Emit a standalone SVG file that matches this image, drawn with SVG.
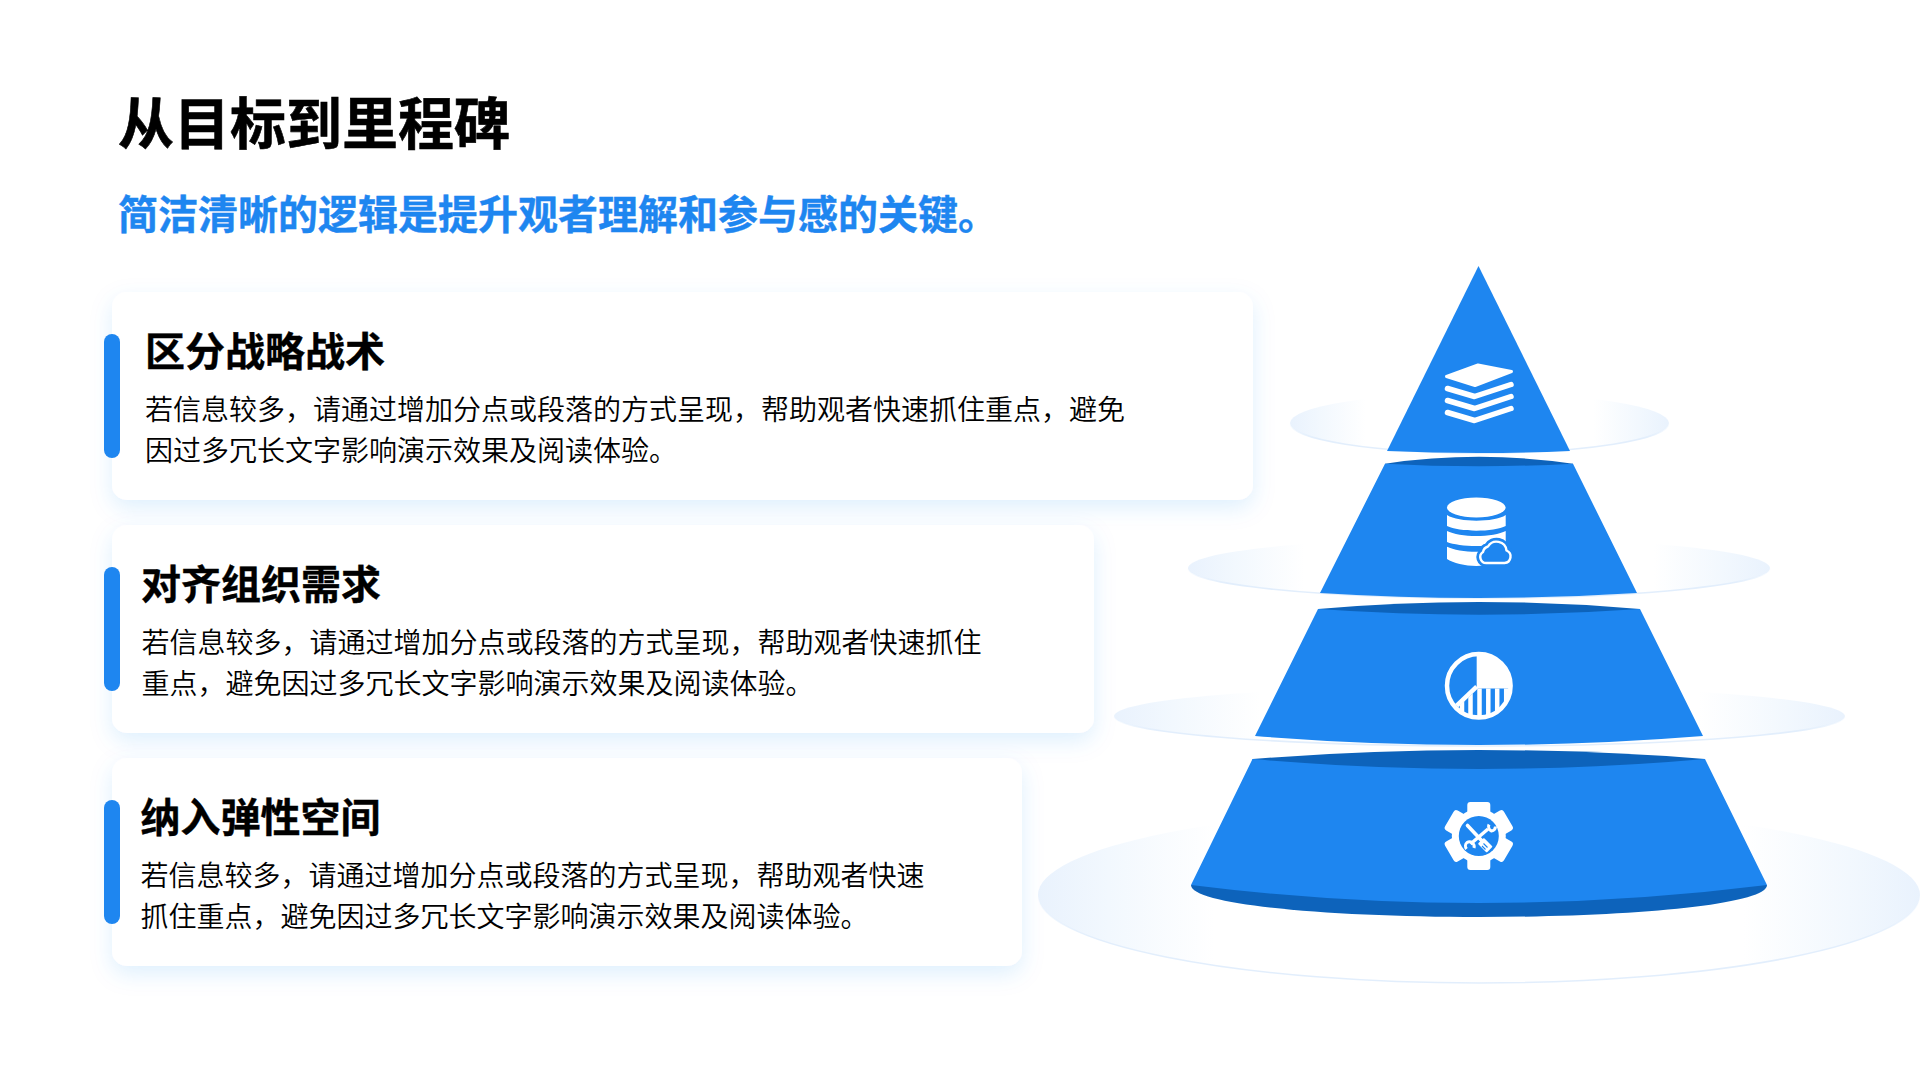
<svg xmlns="http://www.w3.org/2000/svg" width="1920" height="1080" viewBox="0 0 1920 1080">
<style>
text{font-family:"Noto Sans CJK SC","Noto Sans",sans-serif}
.h1{font-size:56px;font-weight:700;fill:#000;stroke:#000;stroke-width:.6}
.sub{font-size:40px;font-weight:700;fill:#1e86f0;stroke:#1e86f0;stroke-width:.4}
.ct{font-size:40px;font-weight:700;fill:#000;stroke:#000;stroke-width:.4}
.cb{font-size:28px;font-weight:350;fill:#000}
.card{fill:#fff;filter:url(#sh)}
.bar{fill:#1e86f0}
.blue{fill:#1e86f0}
.dark{fill:#0d63bb}
.wh{fill:#fff}
.ring{fill:url(#rg);stroke:url(#rs);stroke-width:1.6}
.chev{fill:none;stroke:#fff;stroke-width:5.5;stroke-linejoin:round;stroke-linecap:round}
</style>
<defs>
<filter id="sh" x="-10%" y="-20%" width="120%" height="150%"><feDropShadow dx="0" dy="8" stdDeviation="11" flood-color="#1e86f0" flood-opacity="0.13"/></filter>
<linearGradient id="rg" x1="0" x2="1" y1="0" y2="0"><stop offset="0" stop-color="#e9f2fd"/><stop offset=".08" stop-color="#f2f8fe"/><stop offset=".2" stop-color="#fff"/><stop offset=".8" stop-color="#fff"/><stop offset=".92" stop-color="#f2f8fe"/><stop offset="1" stop-color="#e9f2fd"/></linearGradient>
<linearGradient id="rs" x1="0" x2="0" y1="0" y2="1"><stop offset=".5" stop-color="#e6f1fd" stop-opacity="0"/><stop offset=".75" stop-color="#e2eefc"/><stop offset="1" stop-color="#e2eefc"/></linearGradient>
<clipPath id="stripes"><path d="M1478 688.5H1514V724H1442V712L1459 706Z"/></clipPath>
<clipPath id="circ"><circle cx="1478.8" cy="685.8" r="33"/></clipPath>
</defs>
<rect width="1920" height="1080" fill="#fff"/>
<g id="heading">
<text class="h1" x="118" y="144">从目标到里程碑</text>
<text class="sub" x="118" y="229">简洁清晰的逻辑是提升观者理解和参与感的关键。</text>
</g>
<g id="card-1">
<rect class="card" x="112" y="292" width="1141" height="208" rx="15"/>
<rect class="bar" x="104" y="334" width="16" height="124" rx="8"/>
<text class="ct" x="145" y="366">区分战略战术</text>
<text class="cb" x="145" y="420">若信息较多，请通过增加分点或段落的方式呈现，帮助观者快速抓住重点，避免</text>
<text class="cb" x="145" y="461">因过多冗长文字影响演示效果及阅读体验。</text>
</g>
<g id="card-2">
<rect class="card" x="112" y="525" width="982" height="208" rx="15"/>
<rect class="bar" x="104" y="567" width="16" height="124" rx="8"/>
<text class="ct" x="141" y="599">对齐组织需求</text>
<text class="cb" x="141.5" y="653">若信息较多，请通过增加分点或段落的方式呈现，帮助观者快速抓住</text>
<text class="cb" x="141.5" y="694">重点，避免因过多冗长文字影响演示效果及阅读体验。</text>
</g>
<g id="card-3">
<rect class="card" x="112" y="758" width="910" height="208" rx="15"/>
<rect class="bar" x="104" y="800" width="16" height="124" rx="8"/>
<text class="ct" x="140.5" y="832">纳入弹性空间</text>
<text class="cb" x="140.5" y="886">若信息较多，请通过增加分点或段落的方式呈现，帮助观者快速</text>
<text class="cb" x="140.5" y="927">抓住重点，避免因过多冗长文字影响演示效果及阅读体验。</text>
</g>
<g id="rings">
<ellipse class="ring" cx="1479" cy="895" rx="441" ry="88"/>
<ellipse class="ring" cx="1479.5" cy="716" rx="365.5" ry="30"/>
<ellipse class="ring" cx="1479" cy="568" rx="291" ry="30"/>
<ellipse class="ring" cx="1479.5" cy="423" rx="189.5" ry="30"/>
</g>
<g id="tier-1">
<path class="blue" d="M1478.5 266L1570 451Q1478.5 455 1387 451Z"/>
<path class="wh" stroke="#fff" stroke-width="3" stroke-linejoin="round" d="M1446.5 376.5L1478 365L1511.5 371.5L1475 385.5Z"/>
<path class="chev" d="M1447.5 388.5L1474.5 396.5L1511 384.5"/>
<path class="chev" d="M1447.5 400.5L1474.5 408.5L1511 396.5"/>
<path class="chev" d="M1447.5 412.5L1474.5 420.5L1511 408.5"/>
</g>
<g id="tier-2">
<path class="dark" d="M1385 463.7Q1479 450 1573 463.7V468H1385Z"/>
<path class="blue" d="M1385 463.7Q1479 468.7 1573 463.7L1637 593Q1478.5 603 1320 593Z"/>
<ellipse class="wh" cx="1476.3" cy="507.5" rx="29.3" ry="10"/>
<path class="wh" d="M1447 515C1453 519 1465 520.7 1476.3 520.7C1488 520.7 1500 519 1505.7 515V526C1500 529 1488 530.7 1476.3 530.7C1465 530.7 1453 529 1447 526Z"/>
<path class="wh" d="M1447 531C1453 534 1465 536 1476.3 536C1488 536 1500 534 1505.7 531V542C1500 544.5 1488 546 1476.3 546C1465 546 1453 544.5 1447 542Z"/>
<path class="wh" d="M1447 546.7C1453 549.7 1465 551.7 1476.3 551.7C1488 551.7 1500 549.7 1505.7 546.7V559C1500 563 1488 566 1476.3 566C1465 566 1453 563 1447 559Z"/>
<path d="M1486.5 563H1504.5A6.5 6.5 0 0 0 1506.5 550.5A10 10 0 0 0 1488 546.5A7 7 0 0 0 1483 552A6 6 0 0 0 1486.5 563Z" fill="#1e86f0" stroke="#1e86f0" stroke-width="8" stroke-linejoin="round"/>
<path d="M1486.5 563H1504.5A6.5 6.5 0 0 0 1506.5 550.5A10 10 0 0 0 1488 546.5A7 7 0 0 0 1483 552A6 6 0 0 0 1486.5 563Z" fill="#1e86f0" stroke="#fff" stroke-width="2.4" stroke-linejoin="round"/>
</g>
<g id="tier-3">
<path class="dark" d="M1318 609Q1479 595 1640 609V616H1318Z"/>
<path class="blue" d="M1318 609Q1479 620.4 1640 609L1703 736Q1478.5 754 1255 736Z"/>
<circle cx="1478.8" cy="685.8" r="31.8" fill="none" stroke="#fff" stroke-width="4.5"/>
<path class="wh" d="M1476.7 654V688.5H1512V685.8A33 33 0 0 0 1476.7 654Z"/>
<path d="M1476.7 686.7L1456.7 705.7" stroke="#fff" stroke-width="4.5"/>
<g clip-path="url(#circ)"><g clip-path="url(#stripes)" stroke="#fff" stroke-width="4.5">
<path d="M1462 680V725M1470.5 680V725M1479.5 680V725M1488.3 680V725M1497.2 680V725M1506.2 680V725"/>
</g></g>
</g>
<g id="tier-4">
<path class="dark" d="M1191 885C1191 905 1330 917 1479 917C1628 917 1767 905 1767 885Z"/>
<path class="dark" d="M1252.5 759Q1479 741 1705 759V772H1252.5Z"/>
<path class="blue" d="M1252.5 759Q1479 779 1705 759L1767 885Q1479 921 1191 885Z"/>
<g class="wh" transform="translate(1478.8 836)">
<circle r="27"/>
<rect x="-11.5" y="-34" width="23" height="14" rx="3"/>
<rect x="-11.5" y="-34" width="23" height="14" rx="3" transform="rotate(60)"/>
<rect x="-11.5" y="-34" width="23" height="14" rx="3" transform="rotate(120)"/>
<rect x="-11.5" y="-34" width="23" height="14" rx="3" transform="rotate(180)"/>
<rect x="-11.5" y="-34" width="23" height="14" rx="3" transform="rotate(240)"/>
<rect x="-11.5" y="-34" width="23" height="14" rx="3" transform="rotate(300)"/>
</g>
<circle class="blue" cx="1478.8" cy="836" r="20"/>
<path d="M1467.5 825.5L1483 842" stroke="#fff" stroke-width="3.6" stroke-linecap="round"/>
<rect class="wh" x="1481" y="839" width="8.5" height="12.5" rx="1" transform="rotate(-45 1485.2 845.2)"/>
<path d="M1483.5 843.5L1487.5 847.5M1482 846L1485.5 849.5" stroke="#1e86f0" stroke-width="1.1"/>
<path d="M1488 829L1470.5 844" stroke="#fff" stroke-width="3.4"/>
<path d="M1489 824.5A4.8 4.8 0 0 0 1491.5 831A4.8 4.8 0 0 0 1495.5 826.5" fill="none" stroke="#fff" stroke-width="3"/>
<path d="M1474 848A4.8 4.8 0 0 0 1467 842.5A4.8 4.8 0 0 0 1466.5 849" fill="none" stroke="#fff" stroke-width="3"/>
</g>
</svg>
